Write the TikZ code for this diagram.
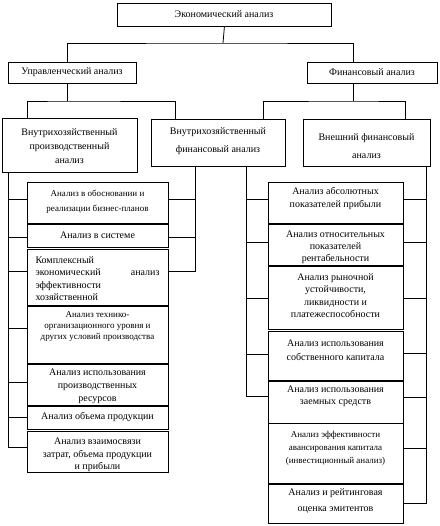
\documentclass[tikz,border=0pt]{standalone}
\usepackage{fontspec}
\setmainfont{Liberation Serif}
\newcommand\fnA[1]{\fontsize{10}{#1}\selectfont}
\newcommand\fnB[1]{\fontsize{9}{#1}\selectfont}
\tikzset{
  box/.style={draw, line width=0.8pt, inner sep=0pt},
  ln/.style={line width=0.8pt},
  sepline/.style={line width=1.8pt},
  txt/.style={inner sep=0pt, align=center}
}
\newcommand\bx[8]{%
  \pgfmathsetmacro\bxw{#4-#2}\pgfmathsetmacro\bxh{#5-#3}%
  \node[box, minimum width=\bxw pt, minimum height=\bxh pt, anchor=north west] (#1) at (#2,#3) {};
  \node[txt, font={#7}] (#1-t) at ({(#2+#4)/2},#6) {#8};}
\begin{document}
\begin{tikzpicture}[x=1pt,y=-1pt]
\fill[white] (0,0) rectangle (439,526);
\useasboundingbox (0,0) rectangle (439,526);
% top levels
\bx{top}{117}{3}{331}{26}{14.5}{\fnA{12}}{Экономический анализ}
\bx{upr}{8}{62}{136}{83}{72.5}{\fnA{12}}{Управленческий анализ}
\bx{fin}{307}{62}{437}{83}{72.5}{\fnA{12}}{Финансовый анализ}
\bx{vpa}{2}{118}{137}{172}{146}{\fnA{14}}{Внутрихозяйственный\\производственный\\анализ}
\bx{vfa}{151}{119}{285}{166}{141}{\fnA{18}}{Внутрихозяйственный\\финансовый анализ}
\bx{vnf}{303}{119}{430}{166}{146}{\fnA{18}}{Внешний финансовый\\анализ}
% left column
\bx{L1}{27}{182}{168}{223}{202}{\fnB{15}}{Анализ в обосновании и\\реализации бизнес-планов}
\bx{L2}{27}{223}{168}{247}{235}{\fnA{12}}{Анализ в системе}
\node[box, minimum width=141pt, minimum height=56pt, anchor=north west] (L3) at (27,249) {};
\node[inner sep=0pt, align=left, font={\fnA{12.3}}] (L3-t) at (97.5,278.5)
  {Комплексный\\\hbox to 124pt{экономический\hfill анализ}\\эффективности\\хозяйственной};
\bx{L4}{27}{306}{168}{363}{326}{\fnB{11}}{Анализ технико-\\организационного уровня и\\других условий производства}
\bx{L5}{27}{363}{168}{405}{386}{\fnA{13}}{Анализ использования\\производственных\\ресурсов}
\bx{L6}{27}{405}{168}{429}{417}{\fnA{12}}{Анализ объема продукции}
\bx{L7}{27}{431}{168}{472}{455}{\fnA{12.5}}{Анализ взаимосвязи\\затрат, объема продукции\\и прибыли}
% right column
\bx{R1}{268}{182}{403}{223}{198.5}{\fnA{13}}{Анализ абсолютных\\показателей прибыли}
\bx{R2}{268}{223}{403}{265}{247}{\fnA{12}}{Анализ относительных\\показателей\\рентабельности}
\bx{R3}{268}{265}{403}{329}{295.5}{\fnA{12.5}}{Анализ рыночной\\устойчивости,\\ликвидности и\\платежеспособности}
\bx{R4}{268}{331}{403}{380}{350}{\fnA{14}}{Анализ использования\\собственного капитала}
\bx{R5}{268}{380}{403}{423}{396}{\fnA{12}}{Анализ использования\\заемных средств}
\bx{R6}{268}{423}{403}{483}{448}{\fnB{13}}{Анализ эффективности\\авансирования капитала\\(инвестиционный анализ)}
\bx{R7}{268}{483}{403}{523}{501}{\fnA{16}}{Анализ и рейтинговая\\оценка эмитентов}
% thick separators
\foreach \n in {L1,L3,L4,L5,R1,R2,R4,R6}
  \draw[sepline] (\n.south west) -- (\n.south east);
% hierarchy connectors
\coordinate (j0) at (223,43);
\draw[ln] (top.south) -- (j0);
\draw[ln] (upr.north -| 67,0) |- (j0) -| (fin.north -| 353,0);
\coordinate (j1) at (67,101);
\draw[ln] (upr.south -| j1) -- (j1);
\draw[ln] (vpa.north -| 27,0) |- (j1) -| (vfa.north -| 175,0);
\coordinate (j2) at (353,101);
\draw[ln] (fin.south -| j2) -- (j2);
\draw[ln] (vfa.north -| 263,0) |- (j2) -| (vnf.north -| 405,0);
% left column buses
\coordinate (bl1) at (8,447);
\draw[ln] (vpa.south -| bl1) -- (bl1) -- (L7.west |- bl1);
\foreach \n/\y in {L1/199,L2/237,L3/271,L4/328,L5/382,L6/417}
  \draw[ln] (8,\y) -- (\n.west |- 0,\y);
\coordinate (bl2) at (195,271);
\draw[ln] (vfa.south -| bl2) -- (bl2) -- (L3.east |- bl2);
\foreach \n/\y in {L1/199,L2/237}
  \draw[ln] (195,\y) -- (\n.east |- 0,\y);
% right column buses
\coordinate (br1) at (246,396);
\draw[ln] (vfa.south -| br1) -- (br1) -- (R5.west |- br1);
\foreach \n/\y in {R1/199,R2/242,R3/298,R4/354}
  \draw[ln] (246,\y) -- (\n.west |- 0,\y);
\coordinate (br2) at (426,503);
\draw[ln] (vnf.south -| br2) -- (br2) -- (R7.east |- br2);
\foreach \n/\y in {R1/199,R2/242,R3/298,R4/353,R5/397,R6/448}
  \draw[ln] (426,\y) -- (\n.east |- 0,\y);
\end{tikzpicture}
\end{document}
